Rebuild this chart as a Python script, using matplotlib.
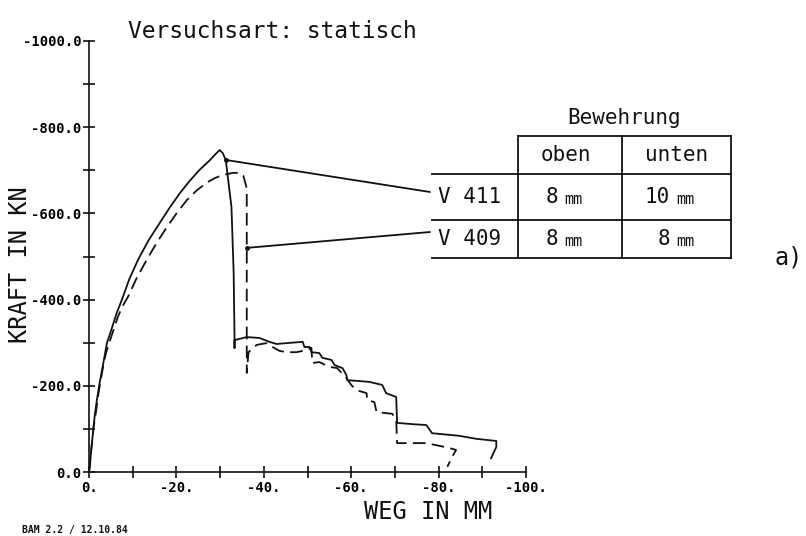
import matplotlib
matplotlib.use("Agg")
import matplotlib.pyplot as plt
from matplotlib.ticker import MultipleLocator

# ---------------- data ----------------
v411_x = [0, -0.2, -0.5, -0.9, -1.3, -1.8, -2.4, -3.0, -4.1, -5.3, -6.3, -7.5, -9.2,
          -11.2, -13.6, -16.2, -18.5, -20.8, -23.0, -25.3, -27.6, -29.0,
          -29.9, -30.6, -31.3, -32.6, -33.1, -33.3, -33.3, -33.3, -36.1, -39.0, -41.3,
          -42.9, -45.2, -48.9, -49.3, -50.5, -50.9, -52.7, -53.4, -55.5, -56.2, -58.0,
          -58.9, -59.1, -61.9, -64.2, -67.1, -68.0, -70.3, -70.5, -74.0, -77.2, -78.5,
          -84.7, -88.6, -93.2, -93.2, -92.0]
v411_y = [0, -12, -50, -90, -130, -167, -205, -237, -299, -336, -368, -399, -447,
          -492, -537, -578, -614, -647, -675, -701, -723, -738,
          -747, -740, -724, -615, -462, -313, -288, -306, -313, -311, -302,
          -297, -299, -302, -290, -290, -278, -276, -265, -260, -248, -241,
          -225, -213, -211, -209, -202, -183, -174, -114, -111, -109, -90,
          -84, -77, -72, -58, -32]

v409_x = [0, -0.5, -1.0, -1.6, -2.2, -2.8, -3.4, -4.0, -5.0, -6.6, -7.7, -8.9, -11.0,
          -13.2, -15.5, -17.8, -20.1, -22.4, -24.6, -26.9, -28.8, -30.6, -32.9, -34.5,
          -35.3, -35.6, -36.0, -36.1, -36.1, -36.1, -36.5, -38.4, -40.6, -42.0,
          -43.6, -45.2, -47.5, -49.8, -50.9, -51.1, -52.7, -55.0, -56.8, -58.9, -60.0,
          -61.2, -63.5, -63.7, -65.3, -65.8, -69.4, -70.3, -70.5, -77.2, -82.4, -84.0,
          -83.1, -82.0]
v409_y = [0, -50, -100, -140, -185, -220, -255, -280, -311, -360, -385, -406, -452,
          -492, -532, -568, -601, -631, -653, -671, -682, -689, -694, -694,
          -688, -677, -662, -654, -313, -230, -278, -295, -299, -290,
          -281, -278, -278, -283, -288, -253, -255, -244, -241, -218, -202,
          -190, -183, -167, -162, -139, -135, -121, -67, -67, -56, -51,
          -35, -12]

x_ticks = [0, -20, -40, -60, -80, -100]
x_labels = ["0.", "-20.", "-40.", "-60.", "-80.", "-100."]
y_ticks = [0, -200, -400, -600, -800, -1000]
y_labels = ["0.0", "-200.0", "-400.0", "-600.0", "-800.0", "-1000.0"]

series_names = ["V 411", "V 409"]
oben = ["8", "8"]
unten = ["10", "8"]
unit = "mm"

# leader attachment points on the curves (data)
lead411 = (-31.3, -724)
lead409 = (-36.1, -520)

# ---------------- figure ----------------
W, H = 806, 536
fig = plt.figure(figsize=(W / 100, H / 100), dpi=100)
mono = "DejaVu Sans Mono"
ink = "#111111"

ax = fig.add_axes([89 / W, 1 - 472 / H, (526 - 89) / W, (472 - 41) / H])
ax.set_xlim(0, -100)
ax.set_ylim(0, -1000)
for s in ["top", "right"]:
    ax.spines[s].set_visible(False)
for s in ["left", "bottom"]:
    ax.spines[s].set_linewidth(1.2)
    ax.spines[s].set_color(ink)

ax.plot(v411_x, v411_y, color=ink, lw=1.3, solid_joinstyle="round")
ax.plot(v409_x, v409_y, color=ink, lw=1.3, dashes=(7, 3.5))

ax.set_xticks(x_ticks)
ax.set_xticklabels(x_labels, fontfamily=mono, fontweight="bold", fontsize=10)
ax.set_yticks(y_ticks)
ax.set_yticklabels(y_labels, fontfamily=mono, fontweight="bold", fontsize=10)
ax.xaxis.set_minor_locator(MultipleLocator(10))
ax.yaxis.set_minor_locator(MultipleLocator(100))
ax.tick_params(which="both", direction="inout", length=9, width=1.2, color=ink)
ax.tick_params(axis="x", pad=2)
ax.tick_params(axis="y", pad=1)

# axis labels and annotations
fig.text(20 / W, 1 - 265 / H, "KRAFT IN KN", rotation=90, ha="center", va="center",
         fontfamily=mono, fontsize=17, color=ink)
fig.text(428 / W, 1 - 512 / H, "WEG IN MM", ha="center", va="center",
         fontfamily=mono, fontsize=17, color=ink)
fig.text(128 / W, 1 - 32 / H, "Versuchsart: statisch", ha="left", va="center",
         fontfamily=mono, fontsize=16.5, color=ink)
fig.text(22 / W, 1 - 530 / H, "BAM 2.2 / 12.10.84", ha="left", va="center",
         fontfamily=mono, fontweight="bold", fontsize=7, color=ink)
fig.text(775 / W, 1 - 258 / H, "a)", ha="left", va="center",
         fontfamily=mono, fontsize=17, color=ink)

# ---------------- table overlay ----------------
ov = fig.add_axes([0, 0, 1, 1], facecolor="none")
ov.set_xlim(0, W)
ov.set_ylim(H, 0)
ov.axis("off")
lw = 1.3
ov.plot([518, 731], [136, 136], color=ink, lw=lw)
ov.plot([432, 731], [174, 174], color=ink, lw=lw)
ov.plot([432, 731], [220, 220], color=ink, lw=lw)
ov.plot([432, 731], [258, 258], color=ink, lw=lw)
for xv in [518, 622, 731]:
    ov.plot([xv, xv], [136, 258], color=ink, lw=lw)

ov.text(624, 118, "Bewehrung", ha="center", va="center", fontfamily=mono, fontsize=15, color=ink)
ov.text(566, 155, "oben", ha="center", va="center", fontfamily=mono, fontsize=15, color=ink)
ov.text(677, 155, "unten", ha="center", va="center", fontfamily=mono, fontsize=15, color=ink)
row_y = [197, 239]
for i, name in enumerate(series_names):
    ov.text(438, row_y[i], name, ha="left", va="center", fontfamily=mono, fontsize=15, color=ink)
    ov.text(558, row_y[i], oben[i], ha="right", va="center", fontfamily=mono, fontsize=15, color=ink)
    ov.text(564, row_y[i] + 2, unit, ha="left", va="center", fontfamily=mono, fontsize=11, color=ink)
    ov.text(670, row_y[i], unten[i], ha="right", va="center", fontfamily=mono, fontsize=15, color=ink)
    ov.text(676, row_y[i] + 2, unit, ha="left", va="center", fontfamily=mono, fontsize=11, color=ink)

# leader lines from curves to table rows
ends = [(430, 192), (430, 232)]
for (lx, ly), (ex, ey) in zip([lead411, lead409], ends):
    ax.plot([lx], [ly], marker="o", ms=2.5, color=ink)
    ax.annotate("", xy=(lx, ly), xycoords="data",
                xytext=(ex, H - ey), textcoords="figure pixels",
                arrowprops=dict(arrowstyle="-", color=ink, lw=1.3,
                                shrinkA=0, shrinkB=0))

fig.savefig("out.png", dpi=100)
